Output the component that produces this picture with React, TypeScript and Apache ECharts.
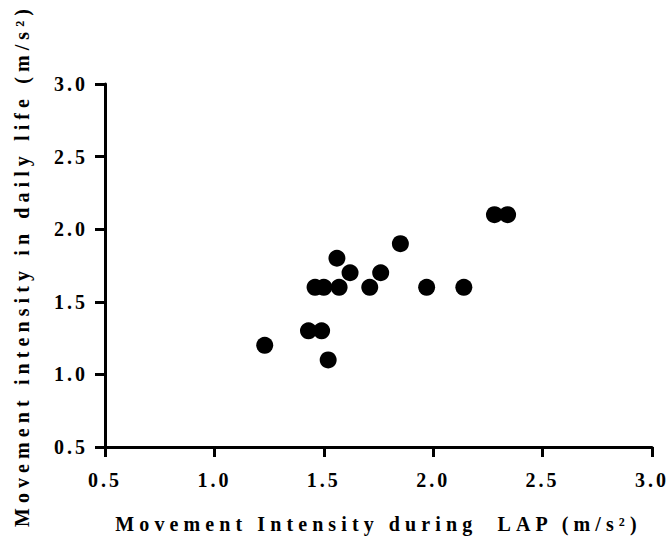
import React, { useEffect, useRef } from "react";
import * as echarts from "echarts";

const lapIntensity = [1.23, 1.43, 1.49, 1.52, 1.46, 1.5, 1.57, 1.56, 1.62, 1.71, 1.76, 1.85, 1.97, 2.14, 2.28, 2.34];
const dailyIntensity = [1.2, 1.3, 1.3, 1.1, 1.6, 1.6, 1.6, 1.8, 1.7, 1.6, 1.7, 1.9, 1.6, 1.6, 2.1, 2.1];
const xTitle = "Movement Intensity during  LAP (m/s²)";
const yTitle = "Movement intensity in daily life (m/s²)";

const FONT = "'Liberation Serif', 'Times New Roman', serif";

export default function App() {
  const ref = useRef<HTMLDivElement>(null);
  useEffect(() => {
    const el = ref.current;
    if (!el) return;
    const chart = echarts.init(el, undefined, { renderer: "svg" });
    const axisCommon = {
      type: "value" as const,
      min: 0.5,
      max: 3.0,
      interval: 0.5,
      splitLine: { show: false },
      axisLine: { show: true, onZero: false, lineStyle: { color: "#000", width: 3 } },
      axisTick: { show: true, length: 10, lineStyle: { color: "#000", width: 3 } },
      nameLocation: "middle" as const,
      nameTextStyle: { fontFamily: FONT, fontWeight: "bold" as const, fontSize: 20, color: "#000" },
    };
    const labelCommon = {
      fontFamily: FONT,
      fontWeight: "bold" as const,
      fontSize: 20,
      color: "#000",
      formatter: (v: number) => v.toFixed(1),
    };
    const applySpacing = () => {
      el.querySelectorAll("text").forEach((t) => {
        const s = (t.textContent || "").trim();
        const want = /^\d\.\d$/.test(s) ? "3" : "5.1";
        if (t.getAttribute("letter-spacing") !== want) t.setAttribute("letter-spacing", want);
      });
    };
    const observer = new MutationObserver(applySpacing);
    observer.observe(el, { childList: true, subtree: true, characterData: true });
    chart.on("finished", applySpacing);
    chart.setOption({
      animation: false,
      backgroundColor: "#fff",
      grid: { left: 105, top: 84, right: 17, bottom: 97 },
      xAxis: {
        ...axisCommon,
        name: xTitle,
        nameGap: 67,
        axisLabel: { ...labelCommon, margin: 23 },
      },
      yAxis: {
        ...axisCommon,
        name: yTitle,
        nameGap: 73,
        axisLabel: { ...labelCommon, margin: 17 },
      },
      series: [
        {
          type: "scatter",
          symbol: "circle",
          symbolSize: 17,
          itemStyle: { color: "#000", opacity: 1 },
          data: lapIntensity.map((x, i) => [x, dailyIntensity[i]]),
        },
      ],
    });
    applySpacing();
    return () => {
      observer.disconnect();
      chart.dispose();
    };
  }, []);
  return <div ref={ref} style={{ width: 669, height: 544, position: "absolute", left: 0, top: 0 }} />;
}
